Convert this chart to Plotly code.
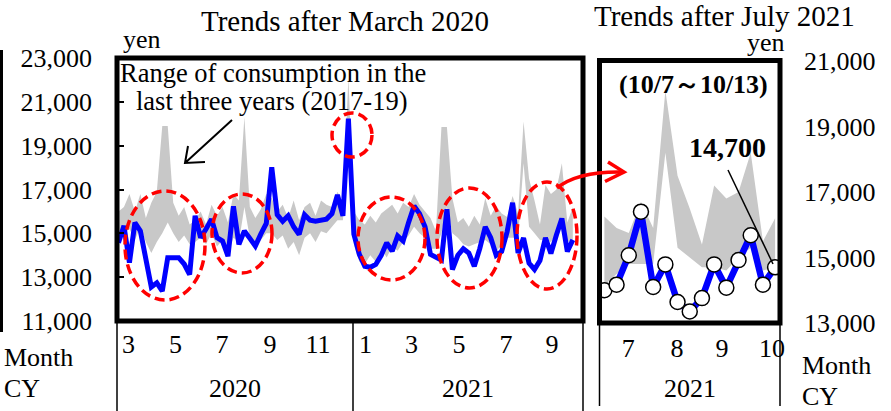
import plotly.graph_objects as go

W, H = 891, 411


def px(x):
    return x / W


def py(y):
    return 1 - y / H


FONT = "Liberation Serif"

# ---------------- data ----------------
# weekly household consumption (yen), weeks from early March 2020 to 10/7-10/13 2021
BLUE_L = [14570, 15340, 13660, 15490, 15110, 13885, 12550, 12740, 12360, 13890,
          13890, 13890, 13600, 13120, 15800, 14800, 15200, 15650, 14800, 14650,
          13960, 16230, 14500, 15110, 14770, 14420, 14960, 15450, 18010, 15850,
          15550, 15800, 15300, 14950, 15850, 15600, 15550, 15600, 15650, 15900,
          16750, 15800, 20230, 14960, 14040, 13500, 13450, 13580, 14000, 14570,
          14190, 14880, 14650, 15500, 16250, 15900, 15300, 14040, 13890, 13780,
          16100, 13350, 14000, 14300, 14100, 13500, 14300, 15300, 14800,
          14000, 14170, 15070, 16400, 14100, 14790, 13640, 13350, 13760, 14790,
          14080, 14920, 15680, 14170, 14700]

# range of the same weeks in 2017-19 (upper / lower)
UPPER_L = [16000, 16200, 16800, 16000, 16800, 15700, 16400, 16900, 19900, 19900,
           16400, 15800, 16200, 15400, 15600, 16000, 15400, 16300, 15800, 16200,
           15500, 16800, 16500, 20300, 16200, 15700, 16100, 16800, 16600, 16000,
           16300, 15700, 16500, 15600, 16200, 16400, 15800, 16500, 16300, 16200,
           16900, 16400, 22100, 16000, 15600, 15400, 15800, 15500, 15900, 16100,
           16300, 15900, 16400, 16200, 16800, 16300, 16000, 15700, 15100, 19850,
           19850, 16600, 15500, 15700, 15300, 15800, 15400, 16600, 15800,
           16250, 15900, 15750, 16700, 15900, 20100, 17500, 16500, 15400, 17200,
           16800, 17000, 18200, 15500, 16200]
LOWER_L = [14700, 15000, 15200, 14700, 15300, 14600, 14100, 14600, 15000, 15500,
           15000, 14600, 14900, 14500, 14600, 14800, 14500, 15000, 14400, 14700,
           14000, 14800, 14600, 16200, 14800, 14500, 14700, 15000, 15000, 14700,
           14900, 14300, 14600, 14000, 14800, 15000, 14600, 15100, 15000, 15300,
           15600, 15600, 18500, 14500, 13700, 13600, 14000, 13700, 14300, 13900,
           14400, 14200, 14600, 14900, 15300, 15000, 14800, 14300, 14300, 15000,
           16200, 15000, 14800, 14500, 14400, 14500, 14600, 14700, 14500,
           14150, 14500, 14800, 14800, 14800, 18200, 15300, 15000, 14700, 14700,
           14600, 15000, 15300, 14600, 14700]

# right panel: weeks from 7/1 to 10/7 2021
BLUE_R = [14000, 14170, 15070, 16400, 14100, 14790, 13640, 13350, 13760, 14790,
          14080, 14920, 15680, 14170, 14700]
UPPER_R = [16250, 15900, 15750, 16700, 15900, 20100, 17500, 16500, 15400, 17200,
           16800, 17000, 18200, 15500, 16200]
LOWER_R = [14150, 14500, 14800, 14800, 14800, 18200, 15300, 15000, 14700, 14700,
           14600, 15000, 15300, 14600, 14700]

LEFT_MONTHS = ["3", "5", "7", "9", "11", "1", "3", "5", "7", "9"]
LEFT_YEARS = ["2020", "2021"]
RIGHT_MONTHS = ["7", "8", "9", "10"]
RIGHT_YEAR = "2021"
LATEST_LABEL = "14,700"
LATEST_WEEK = "(10/7～10/13)"

# ---------------- layout positions (week index) ----------------
LEFT_TICK_POS = [1.83, 10.41, 18.91, 27.68, 36.45, 45.12, 53.53, 62.2, 70.8, 79.2]
RIGHT_TICK_POS = [1.95, 5.95, 9.65, 13.75]

xl = list(range(len(BLUE_L)))
xr = list(range(len(BLUE_R)))
GRAY = "#C8C8C8"
BLUE = "#0000FF"

fig = go.Figure()
fig.add_trace(go.Scatter(x=xl, y=LOWER_L, mode="lines", line=dict(width=0, color=GRAY),
                         xaxis="x", yaxis="y", hoverinfo="skip"))
fig.add_trace(go.Scatter(x=xl, y=UPPER_L, mode="lines", line=dict(width=0, color=GRAY),
                         fill="tonexty", fillcolor=GRAY, xaxis="x", yaxis="y", hoverinfo="skip"))
fig.add_trace(go.Scatter(x=xl, y=BLUE_L, mode="lines", line=dict(width=5, color=BLUE),
                         xaxis="x", yaxis="y"))

fig.add_trace(go.Scatter(x=xr, y=LOWER_R, mode="lines", line=dict(width=0, color=GRAY),
                         xaxis="x2", yaxis="y2", hoverinfo="skip"))
fig.add_trace(go.Scatter(x=xr, y=UPPER_R, mode="lines", line=dict(width=0, color=GRAY),
                         fill="tonexty", fillcolor=GRAY, xaxis="x2", yaxis="y2", hoverinfo="skip"))
fig.add_trace(go.Scatter(x=xr, y=BLUE_R, mode="lines+markers", line=dict(width=6.5, color=BLUE),
                         marker=dict(size=15, color="white", line=dict(width=1.5, color="black")),
                         xaxis="x2", yaxis="y2"))

tickfont = dict(family=FONT, size=26, color="black")
common = dict(showgrid=False, zeroline=False, showline=False, automargin=False, fixedrange=True)

fig.update_layout(
    width=W, height=H,
    margin=dict(l=0, r=0, t=0, b=0),
    paper_bgcolor="white", plot_bgcolor="white",
    showlegend=False,
    font=dict(family=FONT, color="black"),
    xaxis=dict(domain=[px(117), px(583)], range=[-0.27, 84.86], anchor="y",
               tickvals=LEFT_TICK_POS, ticktext=LEFT_MONTHS, ticks="",
               tickfont=tickfont, ticklabelstandoff=5, **common),
    yaxis=dict(domain=[py(321), py(58)], range=[11000, 23000], anchor="x",
               tickvals=list(range(11000, 23001, 2000)), tickformat=",",
               ticks="inside", ticklen=7, tickwidth=2, tickcolor="black",
               tickfont=tickfont, ticklabelstandoff=24, **common),
    xaxis2=dict(domain=[px(599.5), px(780)], range=[-0.4, 14.4], anchor="y2",
                tickvals=RIGHT_TICK_POS, ticktext=RIGHT_MONTHS, ticks="",
                tickfont=tickfont, ticklabelstandoff=7, **common),
    yaxis2=dict(domain=[py(323), py(61)], range=[13000, 21000], anchor="x2", side="right",
                tickvals=list(range(13000, 21001, 2000)), tickformat=",", ticks="",
                tickfont=tickfont, ticklabelstandoff=23, **common),
)


def line(x0, y0, x1, y1, width=1.5, color="black", dash=None):
    d = dict(type="line", xref="paper", yref="paper", x0=px(x0), y0=py(y0), x1=px(x1), y1=py(y1),
             line=dict(color=color, width=width))
    if dash:
        d["line"]["dash"] = dash
    return d


def path(points_str, width, color):
    return dict(type="path", xref="paper", yref="paper", path=points_str,
                line=dict(color=color, width=width))


def P(x, y):
    return f"{px(x):.5f},{py(y):.5f}"


shapes = []
# panel frames
shapes.append(dict(type="rect", xref="paper", yref="paper", x0=px(117), x1=px(583), y0=py(321), y1=py(58),
                   line=dict(color="black", width=5)))
shapes.append(dict(type="rect", xref="paper", yref="paper", x0=px(599.5), x1=px(780), y0=py(323), y1=py(60.5),
                   line=dict(color="black", width=5)))
# category separators below the panels
for xx in (117, 353, 583):
    shapes.append(line(xx, 321, xx, 411))
for xx in (599.5, 780):
    shapes.append(line(xx, 323, xx, 406))
# frame of the neighbouring chart at the very left
shapes.append(line(1.5, 50, 1.5, 332, width=3))

# red dashed ellipses
for (a, b, c, d) in [(125, 191, 205, 300), (212, 194, 272, 273), (332, 113, 372, 157),
                     (358, 197, 425, 280), (437, 188, 502, 288), (517, 182, 577, 289)]:
    shapes.append(dict(type="circle", xref="paper", yref="paper", x0=px(a), x1=px(c), y0=py(d), y1=py(b),
                       line=dict(color="#FF0000", width=3.5, dash="10px,5px")))

# black arrow toward the grey band
shapes.append(path(f"M{P(232,120)} L{P(185,163)} M{P(205,162)} L{P(185,163)} L{P(188,146)}", 2, "black"))
# red curved arrow to the right panel
shapes.append(path(f"M{P(557,188)} Q{P(578,171)} {P(623,172)}", 3.5, "#FF0000"))
shapes.append(path(f"M{P(608,162)} L{P(624,172)} L{P(605,181.5)}", 3.5, "#FF0000"))
# leader line for the latest value
shapes.append(line(728, 170, 773, 264, width=1.5))

fig.update_layout(shapes=shapes)


def ann(text, x, y, size=26, xanchor="center", bold=False):
    t = f"<b>{text}</b>" if bold else text
    return dict(text=t, x=px(x), y=py(y), xref="paper", yref="paper", showarrow=False,
                xanchor=xanchor, yanchor="middle", font=dict(family=FONT, size=size, color="black"))


annotations = [
    ann("Trends after March 2020", 344.5, 21, size=29),
    ann("Trends after July 2021", 724, 16, size=29),
    ann("yen", 141.5, 39),
    ann("yen", 765.5, 43),
    ann("Range of consumption in the", 273, 73.5, size=26.5),
    ann("last three years (2017-19)", 272, 101.5, size=26.5),
    ann(LATEST_WEEK, 693, 84.5, size=26, bold=True),
    ann(LATEST_LABEL, 727, 147, size=28, bold=True),
    ann("Month", 2, 357, xanchor="left"),
    ann("CY", 2, 388.5, xanchor="left"),
    ann("Month", 800, 365, xanchor="left"),
    ann("CY", 800, 396.5, xanchor="left"),
    ann(LEFT_YEARS[0], 235, 388.5),
    ann(LEFT_YEARS[1], 468, 388.5),
    ann(RIGHT_YEAR, 689.5, 388),
]
fig.update_layout(annotations=annotations)

fig.write_html("out.html", config={"displayModeBar": False},
               post_script="document.body.style.margin='0px';document.body.style.overflow='hidden';")
